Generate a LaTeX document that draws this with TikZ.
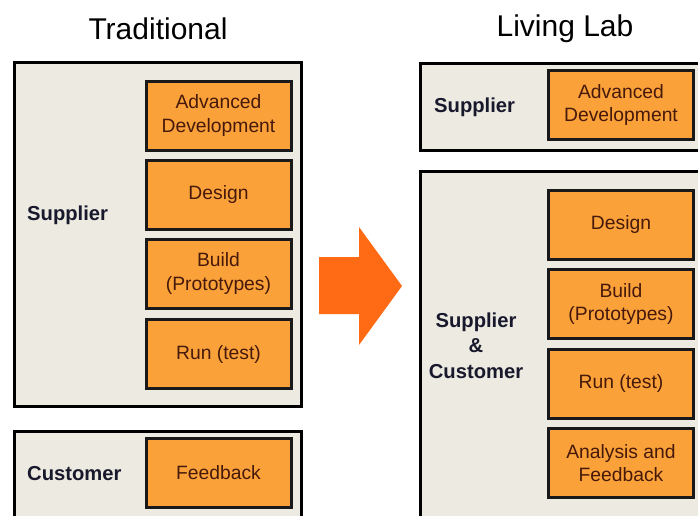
\documentclass[tikz,border=0pt]{standalone}
\usepackage{fontspec}
\setmainfont{Liberation Sans}
\definecolor{panelfill}{RGB}{236,234,225}
\definecolor{stepfill}{RGB}{250,161,58}
\definecolor{steptext}{RGB}{70,25,10}
\definecolor{labeltext}{RGB}{25,25,45}
\definecolor{arrowfill}{RGB}{255,106,20}
\tikzset{
  panel/.style={draw=black,fill=panelfill,line width=3pt},
  stepbox/.style={draw=black!90,fill=stepfill,line width=3pt,text=steptext,
    minimum width=145pt,minimum height=69pt,align=center,inner sep=0pt,
    font=\fontsize{19.3}{23.5}\selectfont},
  role/.style={text=labeltext,inner sep=0pt,align=center,
    font=\fontsize{20.2}{25.5}\selectfont\bfseries},
  heading/.style={text=black,inner sep=0pt,font=\fontsize{30}{34}\selectfont}
}
\begin{document}
\begin{tikzpicture}
    \def\x{1pt}
    \def\y{-1pt}
    \clip (0*\x, 0*\y) rectangle (698*\x, 515*\y);
    % traditional
    \node[heading] (T0_0) at (158*\x, 28.5*\y) {Traditional};
    \filldraw[panel] (14.5*\x, 62.5*\y) rectangle (301.5*\x, 406.5*\y);
    \filldraw[panel] (14.5*\x, 431.5*\y) rectangle (301.5*\x, 540*\y);
    \node[stepbox] (T1_0) at (218.5*\x, 115.5*\y) {Advanced\\Development};
    \node[stepbox] (T2_0) at (218.5*\x, 195*\y) {Design};
    \node[stepbox] (T3_0) at (218.5*\x, 273.5*\y) {Build\\(Prototypes)};
    \node[stepbox] (T4_0) at (218.5*\x, 354*\y) {Run (test)};
    \node[stepbox] (T5_0) at (218.5*\x, 473*\y) {Feedback};
    \node[role,anchor=west] (T2_1) at (27*\x, 215.5*\y) {Supplier};
    \node[role,anchor=west] (T5_1) at (27*\x, 473.5*\y) {Customer};
    % arrow
    \fill[arrowfill] (319*\x, 257*\y) -- (359*\x, 257*\y) -- (359*\x, 227*\y)
      -- (402*\x, 286*\y) -- (359*\x, 345*\y) -- (359*\x, 314*\y)
      -- (319*\x, 314*\y) -- cycle;
    % living lab
    \node[heading] (L0_0) at (565*\x, 28.5*\y) {Living Lab};
    \filldraw[panel] (420.5*\x, 63.5*\y) rectangle (720*\x, 150.5*\y);
    \filldraw[panel] (420.5*\x, 171.5*\y) rectangle (720*\x, 540*\y);
    \node[stepbox] (L1_0) at (621*\x, 105*\y) {Advanced\\Development};
    \node[stepbox] (L2_0) at (621*\x, 225*\y) {Design};
    \node[stepbox] (L3_0) at (621*\x, 304*\y) {Build\\(Prototypes)};
    \node[stepbox] (L4_0) at (621*\x, 383.5*\y) {Run (test)};
    \node[stepbox] (L5_0) at (621*\x, 463*\y) {Analysis and\\Feedback};
    \node[role,anchor=west] (L1_1) at (434*\x, 107*\y) {Supplier};
    \node[role] (L3_1) at (476*\x, 345.5*\y) {Supplier\\\&\\Customer};
  \end{tikzpicture}
\end{document}
